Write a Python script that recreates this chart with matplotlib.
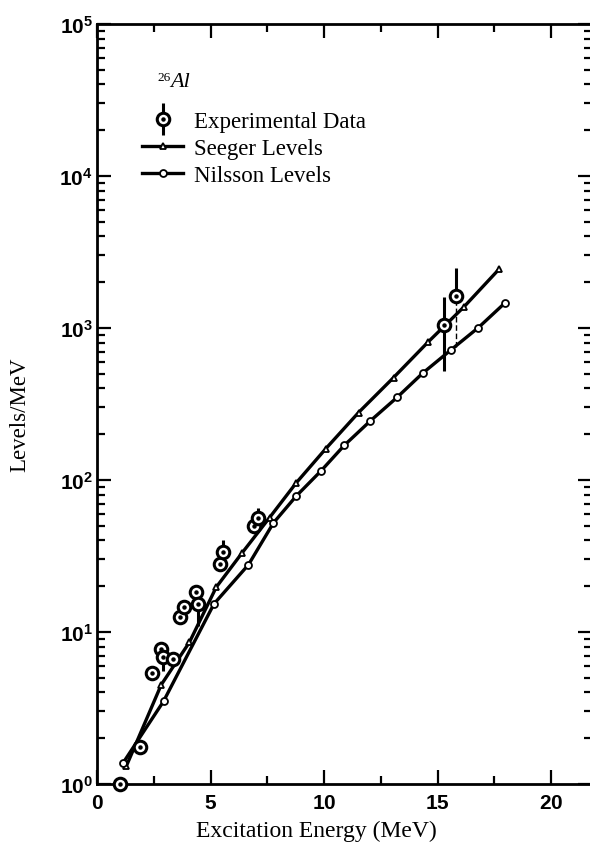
import numpy as np
import matplotlib.pyplot as plt
from matplotlib.ticker import MultipleLocator, LogLocator, FuncFormatter, NullFormatter
from matplotlib.container import ErrorbarContainer
from matplotlib.legend_handler import HandlerErrorbar

plt.rcParams['font.family'] = ['Liberation Serif', 'DejaVu Serif']
plt.rcParams['mathtext.fontset'] = 'custom'
plt.rcParams['mathtext.rm'] = 'Liberation Sans:bold'
plt.rcParams['mathtext.bf'] = 'Liberation Sans:bold'

# experimental level densities (levels/MeV) with error bar ends
exp_e = np.array([1.00, 1.88, 2.42, 2.83, 2.90, 3.34, 3.67, 3.83, 4.34, 4.44,
                  5.43, 5.57, 6.91, 7.08, 15.29, 15.81])
exp_rho = np.array([1.0, 1.74, 5.4, 7.7, 6.8, 6.6, 12.5, 14.5, 18.3, 15.3,
                    28.0, 33.4, 50.0, 56.6, 1047, 1617])
exp_lo = np.array([1.0, 1.74, 5.4, 7.7, 5.5, 6.6, 12.5, 14.5, 18.3, 11.0,
                   28.0, 27.0, 50.0, 56.6, 524, 750])
exp_hi = np.array([1.0, 1.74, 5.4, 7.7, 6.8, 6.6, 12.5, 14.5, 18.3, 15.3,
                   28.0, 40.0, 50.0, 65.4, 1600, 2490])

# model curves
seeger_e = [1.29, 2.83, 4.07, 5.25, 6.38, 7.60, 8.77, 10.08, 11.52, 13.06,
            14.59, 16.17, 17.71]
seeger_rho = [1.31, 4.5, 8.56, 19.7, 33.0, 56.6, 95.6, 161, 278, 472,
              811, 1382, 2441]
nilsson_e = [1.14, 2.93, 5.15, 6.67, 7.77, 8.77, 9.87, 10.89, 12.04, 13.21,
             14.34, 15.59, 16.80, 17.96]
nilsson_rho = [1.37, 3.5, 15.3, 27.7, 52.2, 78.3, 115, 169, 245, 349,
               504, 718, 1007, 1459]

fig = plt.figure(figsize=(5.9, 8.54), dpi=100)
ax = fig.add_axes([97 / 590, 69 / 854, 495 / 590, 760 / 854])
ax.set_yscale('log')

sg, = ax.plot(seeger_e, seeger_rho, '-', color='k', lw=2.4, marker='^', ms=5,
              mfc='white', mec='k', mew=1.3, zorder=3)
ns, = ax.plot(nilsson_e, nilsson_rho, '-', color='k', lw=2.4, marker='o', ms=5,
              mfc='white', mec='k', mew=1.3, zorder=3)

# last point has a dashed lower bar
dashed = np.zeros(len(exp_e), bool)
dashed[-1] = True
lo_err = np.where(dashed, 0, exp_rho - exp_lo)
up_err = exp_hi - exp_rho
eb = ax.errorbar(exp_e, exp_rho, yerr=[lo_err, up_err], fmt='o', ms=9,
                 mfc='white', mec='k', mew=2.2, ecolor='k', elinewidth=2.2,
                 capsize=0, zorder=4, clip_on=False)
ax.vlines(exp_e[dashed], exp_lo[dashed], exp_rho[dashed], colors='k',
          linestyles=(0, (4, 2)), lw=1.0, zorder=4)
dots, = ax.plot(exp_e, exp_rho, 'o', color='k', ms=2.2, zorder=5, clip_on=False)

ax.set_xlim(0, 21.8)
ax.set_ylim(1, 1e5)

ax.xaxis.set_major_locator(MultipleLocator(5))
ax.xaxis.set_minor_locator(MultipleLocator(2.5))
ax.xaxis.set_major_formatter(FuncFormatter(lambda v, p: r'$\mathbf{%d}$' % round(v)))
ax.yaxis.set_major_locator(LogLocator(base=10))
ax.yaxis.set_minor_locator(LogLocator(base=10, subs=np.arange(2, 10)))
ax.yaxis.set_minor_formatter(NullFormatter())
ax.yaxis.set_major_formatter(FuncFormatter(lambda v, p: r'$\mathbf{10^{%d}}$' % round(np.log10(v))))

ax.tick_params(which='both', direction='in', top=True, right=True, width=1.6)
ax.tick_params(which='major', length=10, labelsize=15)
ax.tick_params(axis='x', which='major', pad=7)
ax.tick_params(axis='y', which='major', pad=3)
ax.tick_params(which='minor', length=6)
for s in ax.spines.values():
    s.set_linewidth(2)
ax.spines['right'].set_visible(False)

ax.set_xlabel('Excitation Energy (MeV)', fontsize=17)
ax.xaxis.set_label_coords((316 - 97) / 495, -36 / 760)
ax.set_ylabel('Levels/MeV', fontsize=16.5)
ax.yaxis.set_label_coords((30 - 97) / 495, (785 - 415) / 760)

fig.text(157 / 590, 1 - 81 / 854, '26', fontsize=9.5, va='baseline')
fig.text(170 / 590, 1 - 87 / 854, 'Al', fontsize=16, style='italic', va='baseline')

ax.legend([(eb, dots), sg, ns], ['Experimental Data', 'Seeger Levels', 'Nilsson Levels'],
          handler_map={ErrorbarContainer: HandlerErrorbar(xerr_size=0.7)},
          loc='upper left', bbox_to_anchor=(142 / 590, 1 - 112 / 854),
          bbox_transform=fig.transFigure, frameon=False, fontsize=16.5,
          borderpad=0, borderaxespad=0, handlelength=1.8, handletextpad=0.45,
          labelspacing=0.25)

fig.savefig('out.png', dpi=100)
